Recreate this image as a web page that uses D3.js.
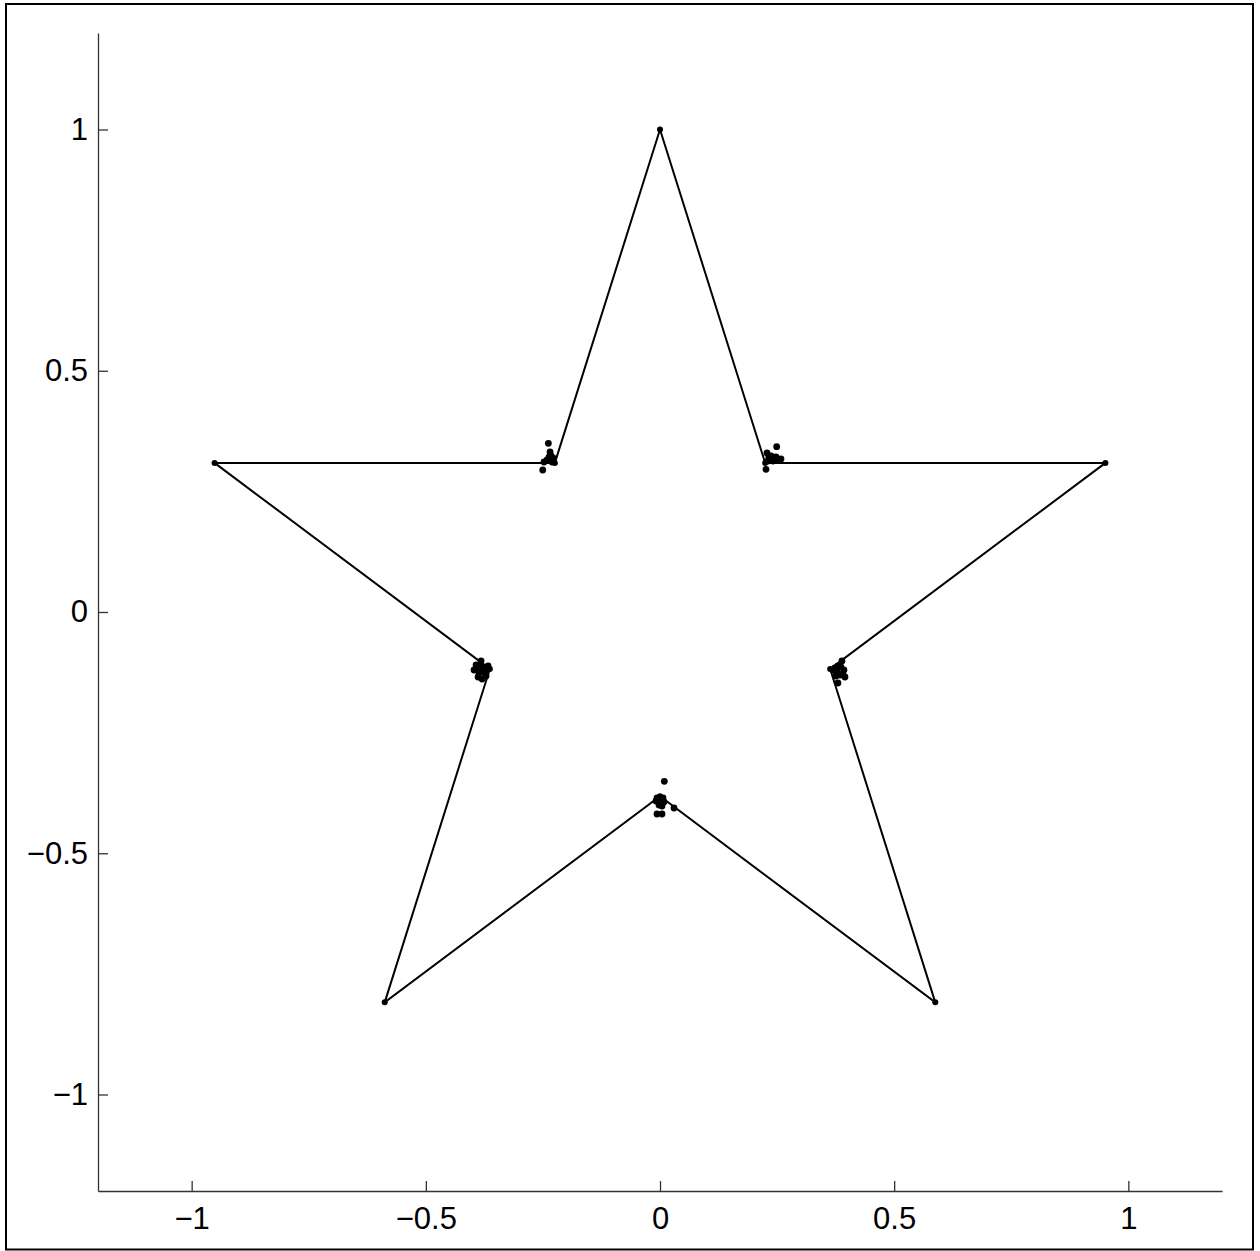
<!DOCTYPE html>
<html><head><meta charset="utf-8">
<script src="https://cdn.jsdelivr.net/npm/d3@7"></script>
<style>body{margin:0;background:#fff}svg{display:block}</style>
</head><body>
<div id="chart"></div>
<script>
// Star polygon vertices (outer and inner alternating)
const starX = [0, 0.2245, 0.9511, 0.3633, 0.5878, 0, -0.5878, -0.3633, -0.9511, -0.2245];
const starY = [1, 0.309, 0.309, -0.118, -0.809, -0.382, -0.809, -0.118, 0.309, 0.309];
// Scatter points clustered near the inner vertices
const ptsX = [
  -0.2384, -0.2504, -0.2348, -0.2284, -0.2412, -0.2476, -0.2305, -0.2370, -0.2327, -0.2284,
  0.2491, 0.2263, 0.2284, 0.2369, 0.2476, 0.2583, 0.2305, 0.2412, 0.2327, 0.2519,
  -0.3821, -0.3927, -0.3970, -0.3757, -0.3863, -0.3714, -0.3799, -0.3906, -0.3671, -0.3842, -0.3778, -0.3885, -0.3735,
  0.3885, 0.3799, 0.3693, 0.3927, 0.3842, 0.3949, 0.3799, 0.3757, 0.3863, 0.3778, 0.3906, 0.3735,
  0.0092, -0.0064, 0.0043, 0.0299, -0.0085, 0.0000, 0.0085, -0.0021, 0.0043, -0.0064, 0.0064, 0.0000
];
const ptsY = [
  0.3496, 0.2943, 0.3316, 0.3192, 0.3150, 0.3109, 0.3109, 0.3210, 0.3233, 0.3130,
  0.3426, 0.2958, 0.3295, 0.3233, 0.3212, 0.3171, 0.3130, 0.3130, 0.3212, 0.3171,
  -0.1016, -0.1098, -0.1202, -0.1161, -0.1264, -0.1326, -0.1389, -0.1161, -0.1119, -0.1140, -0.1244, -0.1347, -0.1223,
  -0.1016, -0.1119, -0.1202, -0.1202, -0.1306, -0.1347, -0.1472, -0.1326, -0.1140, -0.1244, -0.1285, -0.1161,
  -0.3509, -0.4187, -0.4187, -0.4062, -0.3917, -0.3876, -0.3938, -0.4000, -0.4021, -0.3855, -0.3855, -0.3959
];
const tickValues = [-1, -0.5, 0, 0.5, 1];
const tickLabels = ["\u22121", "\u22120.5", "0", "0.5", "1"];

const W = 1260, H = 1251;
const svg = d3.select("#chart").append("svg").attr("width", W).attr("height", H);

svg.append("rect").attr("x", 6).attr("y", 4).attr("width", 1247).attr("height", 1245.5)
  .attr("fill", "none").attr("stroke", "#000").attr("stroke-width", 2);

const x = d3.scaleLinear().domain([-1.2, 1.2]).range([98, 1222]);
const y = d3.scaleLinear().domain([-1.2, 1.2]).range([1191, 33]);
const fmt = v => tickLabels[tickValues.indexOf(v)];

const xAxis = svg.append("g").attr("transform", `translate(0,${y(-1.2)})`)
  .call(d3.axisBottom(x).tickValues(tickValues).tickFormat(fmt).tickSizeInner(-10).tickSizeOuter(0).tickPadding(16));
const yAxis = svg.append("g").attr("transform", `translate(${x(-1.2)},0)`)
  .call(d3.axisLeft(y).tickValues(tickValues).tickFormat(fmt).tickSizeInner(-10).tickSizeOuter(0).tickPadding(10));
[xAxis, yAxis].forEach(g => {
  g.selectAll("path.domain").attr("stroke", "#333").attr("stroke-width", 1.3);
  g.selectAll(".tick line").attr("stroke", "#333").attr("stroke-width", 1.3);
  g.selectAll(".tick text").attr("fill", "#000")
    .style("font-family", "'Liberation Sans', Arial, sans-serif").style("font-size", "31px");
});

const starPts = starX.map((v, i) => [x(v), y(starY[i])]);
svg.append("path").attr("d", d3.line()(starPts) + "Z")
  .attr("fill", "none").attr("stroke", "#000").attr("stroke-width", 2).attr("stroke-linejoin", "miter");

svg.append("g").selectAll("circle").data(starX).join("circle")
  .attr("cx", (d) => x(d)).attr("cy", (d, i) => y(starY[i])).attr("r", 3).attr("fill", "#000");

svg.append("g").selectAll("circle").data(ptsX).join("circle")
  .attr("cx", d => x(d)).attr("cy", (d, i) => y(ptsY[i])).attr("r", 3.4).attr("fill", "#000");
</script>
</body></html>
